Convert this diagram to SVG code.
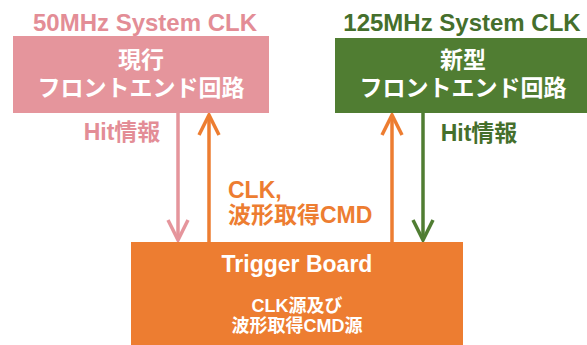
<svg xmlns="http://www.w3.org/2000/svg" width="587" height="345" viewBox="0 0 587 345">
<style>
text{font-family:"Liberation Sans","Noto Sans CJK JP",sans-serif;font-weight:bold;text-anchor:middle}
.w{fill:#ffffff}
.pk{fill:#E38D96}
.gr{fill:#456F2C}
.or{fill:#ED7D31}
.l{font-size:23px}
.s{font-size:18px}
.ln{fill:none;stroke-width:3.5}
</style>
<defs>
<marker id="mp" markerUnits="userSpaceOnUse" markerWidth="30" markerHeight="30" refX="0" refY="0" viewBox="-24 -15 30 30" orient="auto"><path d="M-20,-10 L0,0 L-20,10" fill="none" stroke="#E5959C" stroke-width="3.5"/></marker>
<marker id="mo" markerUnits="userSpaceOnUse" markerWidth="30" markerHeight="30" refX="0" refY="0" viewBox="-24 -15 30 30" orient="auto"><path d="M-20,-10 L0,0 L-20,10" fill="none" stroke="#ED7D31" stroke-width="3.5"/></marker>
<marker id="mg" markerUnits="userSpaceOnUse" markerWidth="30" markerHeight="30" refX="0" refY="0" viewBox="-24 -15 30 30" orient="auto"><path d="M-20,-10 L0,0 L-20,10" fill="none" stroke="#507D32" stroke-width="3.5"/></marker>
</defs>
<g id="connectors">
<line class="ln" x1="178" y1="113" x2="178" y2="240" stroke="#E5959C" marker-end="url(#mp)"/>
<line class="ln" x1="209" y1="243" x2="209" y2="115" stroke="#ED7D31" marker-end="url(#mo)"/>
<line class="ln" x1="392" y1="243" x2="392" y2="115" stroke="#ED7D31" marker-end="url(#mo)"/>
<line class="ln" x1="423" y1="113" x2="423" y2="240" stroke="#507D32" marker-end="url(#mg)"/>
<text class="l pk" x="122" y="140">Hit情報</text>
<text class="l gr" x="479" y="141">Hit情報</text>
<text class="l or" x="228" y="198" style="text-anchor:start">CLK,</text>
<text class="l or" x="228" y="223" style="text-anchor:start">波形取得CMD</text>
</g>
<g id="current-frontend">
<text class="l pk" x="145" y="31" style="font-size:24px">50MHz System CLK</text>
<rect x="13" y="36" width="256" height="77" fill="#E5959C"/>
<text class="l w" x="141" y="68">現行</text>
<text class="l w" x="141" y="96">フロントエンド回路</text>
</g>
<g id="new-frontend">
<text class="l gr" x="462" y="31" style="font-size:24px">125MHz System CLK</text>
<rect x="335" y="38" width="258" height="75" fill="#507D32"/>
<text class="l w" x="463" y="68">新型</text>
<text class="l w" x="463" y="96">フロントエンド回路</text>
</g>
<g id="trigger-board">
<rect x="131" y="242" width="332" height="110" fill="#ED7D31"/>
<text class="l w" x="297" y="272">Trigger Board</text>
<text class="s w" x="297" y="312">CLK源及び</text>
<text class="s w" x="297" y="332">波形取得CMD源</text>
</g>
</svg>
